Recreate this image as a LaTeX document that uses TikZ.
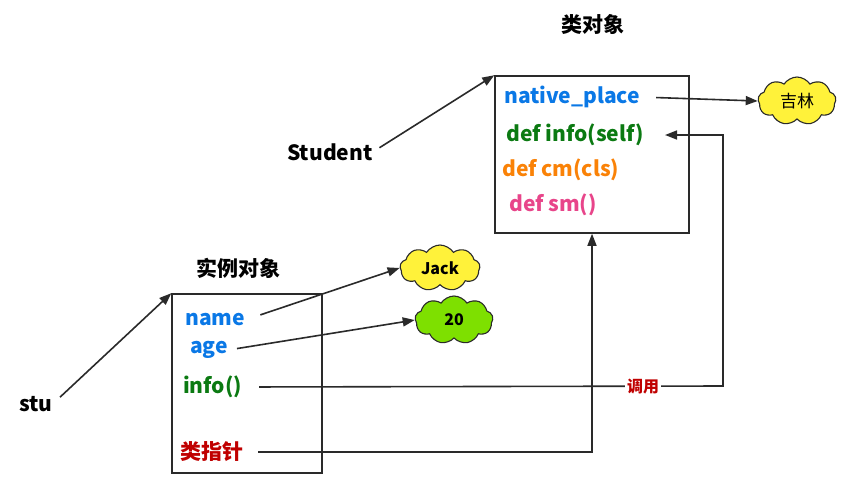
\documentclass[tikz,border=0pt]{standalone}
\usepackage{fontspec}
\setmainfont{Noto Sans CJK SC}
\usetikzlibrary{shapes.symbols,arrows.meta}
\definecolor{cblue}{HTML}{0A78E6}
\definecolor{cgreen}{HTML}{0B7A12}
\definecolor{corange}{HTML}{FA8207}
\definecolor{cpink}{HTML}{E8458A}
\definecolor{cred}{HTML}{C00000}
\definecolor{cline}{HTML}{2A2A2A}
\definecolor{cyel}{HTML}{FFF23A}
\definecolor{cgrn}{HTML}{7EE000}
\tikzset{
  lbl/.style={inner sep=0pt, anchor=west, font=\bfseries\fontsize{21}{25}\selectfont},
  ttl/.style={inner sep=0pt, font=\bfseries\fontsize{21}{25}\selectfont},
  objbox/.style={draw=cline, line width=1.5pt, inner sep=0pt},
  bubble/.style={cloud, cloud puffs=9, cloud puff arc=115, aspect=1.7, draw=cline, line width=1.1pt, inner sep=0pt, font=\bfseries\fontsize{16}{19}\selectfont},
  conn/.style={draw=cline, line width=1.6pt},
  arr/.style={conn, -{Triangle[length=12pt,width=9pt]}},
}
\begin{document}
\begin{tikzpicture}[x=1pt,y=-1pt]
\useasboundingbox[fill=white] (0,0) rectangle (858,493);
% class object
\node[ttl] (clsT) at (593,24) {类对象};
\node[objbox, minimum width=194pt, minimum height=157pt] (cls) at (592,154.5) {};
\node[lbl, text=cblue] (np) at (504,97) {native\_place};
\node[lbl, text=cgreen] (dinfo) at (506,135) {def info(self)};
\node[lbl, text=corange] (dcm) at (502,170) {def cm(cls)};
\node[lbl, text=cpink] (dsm) at (509,205) {def sm()};
\node[bubble, fill=cyel, minimum width=78pt, minimum height=48pt, font=\mdseries\fontsize{17}{20}\selectfont] (jl) at (797,101) {吉林};
\node[lbl] (student) at (287,152) {Student};
% instance object
\node[ttl] (instT) at (238,268) {实例对象};
\node[objbox, minimum width=150pt, minimum height=179pt] (inst) at (247,383.5) {};
\node[lbl, text=cblue] (name) at (185,320) {name};
\node[lbl, text=cblue] (age) at (190,350) {age};
\node[lbl, text=cgreen] (info) at (183,387) {info()};
\node[lbl, text=cred] (ptr) at (180,452) {类指针};
\node[bubble, fill=cyel, minimum width=80pt, minimum height=46pt] (jack) at (440,268) {Jack};
\node[bubble, fill=cgrn, minimum width=78pt, minimum height=48pt] (age20) at (454,320) {20};
\node[lbl] (stu) at (19,404) {stu};
% coordinates
\coordinate (r1) at (723,386);
\coordinate (r2) at (723,135);
\coordinate (itip) at (665,135);
\coordinate (p1) at (592,452);
% connectors
\draw[arr, shorten <=8pt] (student.east) -- (cls.north west);
\draw[arr, shorten <=10pt] (stu.east) -- (inst.north west);
\draw[arr, shorten <=16pt] (np.east) -- (jl.west);
\draw[arr, shorten <=16pt] (name.east) -- (jack.west);
\draw[arr, shorten <=9pt] (age.east) -- (age20.west);
\draw[arr, shorten <=17pt] (info.east) -- node[pos=0.834, fill=white, inner sep=2pt, text=cred, font=\bfseries\fontsize{16}{19}\selectfont] (call) {调用} (r1) -- (r2) -- (itip);
\draw[arr, shorten <=15pt] (ptr.east) -- (p1) -- (cls.south);
\end{tikzpicture}
\end{document}
